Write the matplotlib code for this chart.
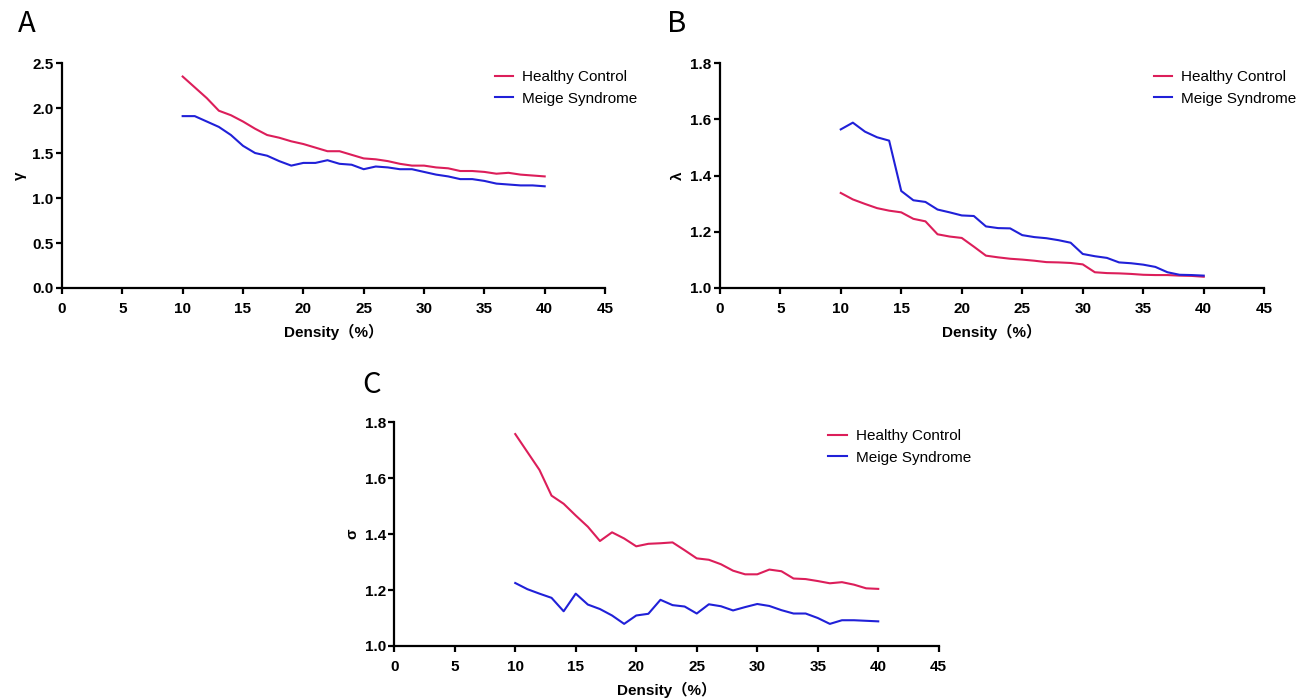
import matplotlib
matplotlib.use("Agg")
import matplotlib.pyplot as plt

plt.rcParams['font.family'] = ['Liberation Sans', 'Noto Sans CJK SC', 'DejaVu Sans']

density = list(range(10, 41))

# panel A: gamma
gamma_hc = [2.35, 2.23, 2.11, 1.97, 1.92, 1.85, 1.77, 1.70, 1.67, 1.63, 1.60, 1.56, 1.52, 1.52, 1.48, 1.44,
            1.43, 1.41, 1.38, 1.36, 1.36, 1.34, 1.33, 1.30, 1.30, 1.29, 1.27, 1.28, 1.26, 1.25, 1.24]
gamma_ms = [1.91, 1.91, 1.85, 1.79, 1.70, 1.58, 1.50, 1.47, 1.41, 1.36, 1.39, 1.39, 1.42, 1.38, 1.37, 1.32,
            1.35, 1.34, 1.32, 1.32, 1.29, 1.26, 1.24, 1.21, 1.21, 1.19, 1.16, 1.15, 1.14, 1.14, 1.13]

# panel B: lambda
lambda_hc = [1.338, 1.315, 1.299, 1.284, 1.275, 1.269, 1.246, 1.237, 1.191, 1.183, 1.178, 1.147, 1.115,
             1.109, 1.104, 1.101, 1.097, 1.092, 1.091, 1.089, 1.084, 1.056, 1.053, 1.052, 1.050, 1.047,
             1.046, 1.046, 1.044, 1.043, 1.040]
lambda_ms = [1.564, 1.588, 1.556, 1.536, 1.524, 1.345, 1.312, 1.306, 1.279, 1.269, 1.258, 1.256, 1.219,
             1.213, 1.212, 1.188, 1.181, 1.177, 1.170, 1.161, 1.121, 1.113, 1.107, 1.091, 1.088, 1.083,
             1.075, 1.056, 1.047, 1.046, 1.044]

# panel C: sigma
sigma_hc = [1.757, 1.693, 1.629, 1.537, 1.508, 1.466, 1.426, 1.375, 1.406, 1.384, 1.356, 1.365, 1.367,
            1.370, 1.342, 1.313, 1.308, 1.292, 1.269, 1.256, 1.256, 1.273, 1.267, 1.241, 1.239, 1.232,
            1.224, 1.228, 1.219, 1.206, 1.204]
sigma_ms = [1.225, 1.203, 1.187, 1.172, 1.124, 1.187, 1.148, 1.132, 1.109, 1.079, 1.109, 1.115, 1.165,
            1.146, 1.141, 1.116, 1.149, 1.142, 1.127, 1.139, 1.150, 1.143, 1.128, 1.116, 1.116, 1.100,
            1.079, 1.092, 1.092, 1.090, 1.088]

red = '#DC1E5A'
blue = '#2020D8'

fig = plt.figure(figsize=(13.02, 6.98), dpi=100)

# letter positions in pixels (x, y from top)
panels = [
    ('A', (27, 24), [0.0476, 0.5874, 0.4171, 0.3223], gamma_hc, gamma_ms, 'γ', (0, 2.5), [0, 0.5, 1.0, 1.5, 2.0, 2.5]),
    ('B', (677, 24), [0.5528, 0.5874, 0.4182, 0.3223], lambda_hc, lambda_ms, 'λ', (1.0, 1.8), [1.0, 1.2, 1.4, 1.6, 1.8]),
    ('C', (372, 385), [0.3028, 0.0745, 0.4182, 0.3209], sigma_hc, sigma_ms, 'σ', (1.0, 1.8), [1.0, 1.2, 1.4, 1.6, 1.8]),
]

for letter, lpos, rect, hc, ms, ylab, ylim, yticks in panels:
    ax = fig.add_axes(rect)
    ax.plot(density, hc, color=red, lw=1.5, label='Healthy Control')
    ax.plot(density, ms, color=blue, lw=1.5, label='Meige Syndrome')
    ax.set_xlim(0, 45)
    ax.set_ylim(*ylim)
    ax.set_xticks(range(0, 46, 5))
    ax.set_yticks(yticks)
    ax.set_yticklabels(['%.1f' % v for v in yticks])
    for s in ['top', 'right']:
        ax.spines[s].set_visible(False)
    for s in ['left', 'bottom']:
        ax.spines[s].set_linewidth(1.6)
    ax.tick_params(axis='both', direction='out', length=4, width=1.6, labelsize=11)
    ax.tick_params(axis='x', pad=6)
    ax.tick_params(axis='y', pad=2)
    for lbl in ax.get_xticklabels() + ax.get_yticklabels():
        lbl.set_fontweight('bold')
    ax.set_xlabel('Density（%）', fontsize=11, fontweight='bold', labelpad=6)
    ax.set_ylabel(ylab, fontsize=11, fontweight='bold', labelpad=4)
    ax.legend(loc='upper left', bbox_to_anchor=(0.797, 0.969), frameon=False, fontsize=11,
              borderpad=0, borderaxespad=0, handlelength=1.2, handletextpad=0.6, labelspacing=0.5)
    fig.text(lpos[0] / 1302, 1 - lpos[1] / 698, letter, fontsize=21,
             family=['Noto Sans CJK SC'], ha='center', va='center')

fig.savefig('out.png', dpi=100)
